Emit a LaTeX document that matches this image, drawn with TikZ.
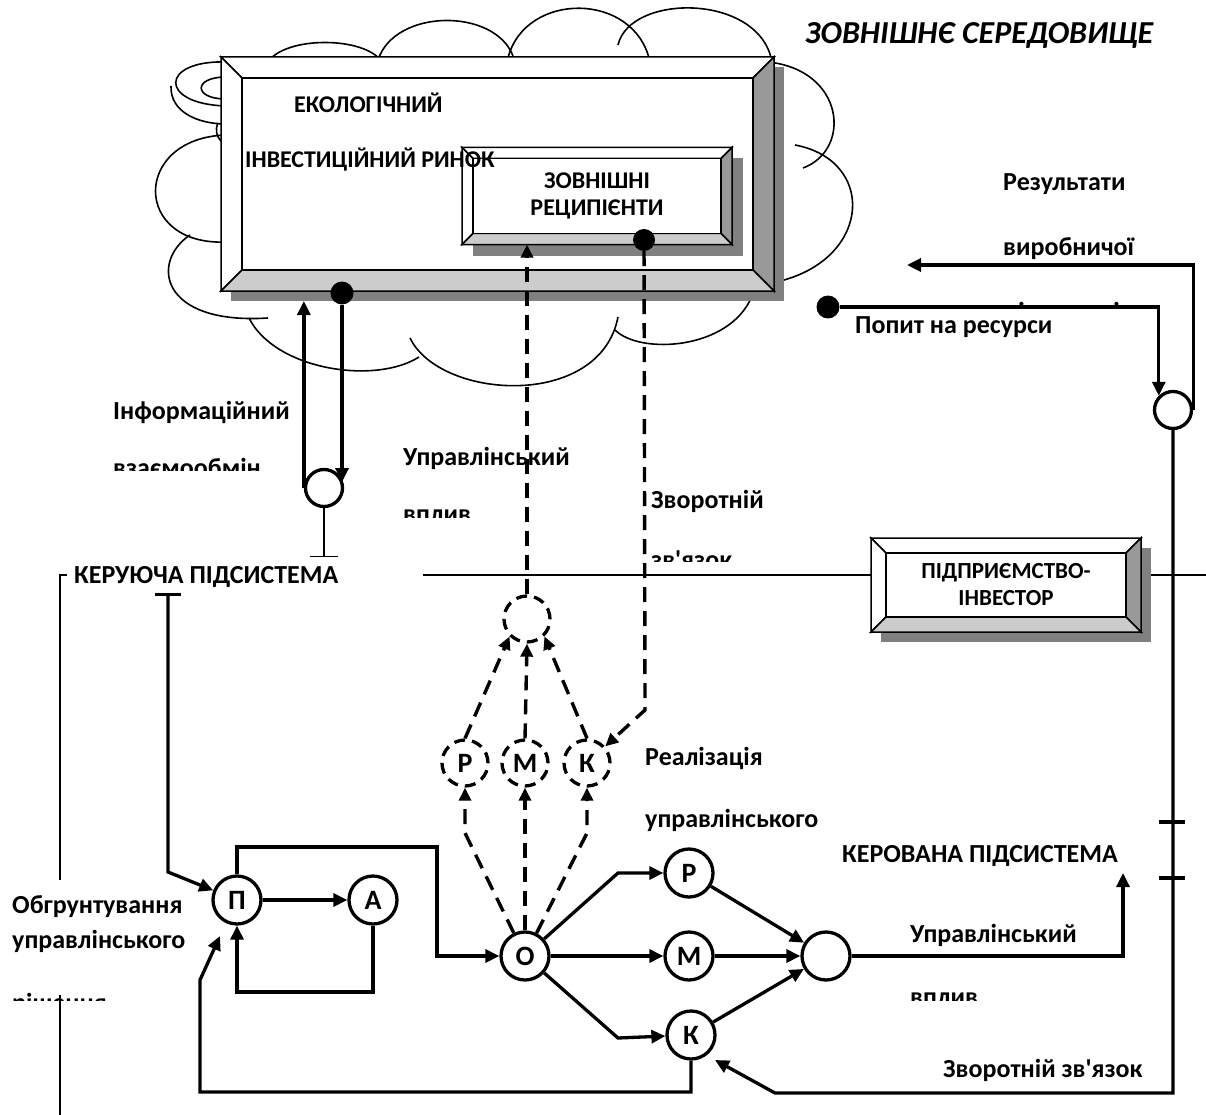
\documentclass[tikz,border=0pt]{standalone}
\usepackage{fontspec}
\setmainfont{Carlito}[Ligatures=TeXOff]
\usetikzlibrary{arrows.meta,calc}
\pgfdeclarelayer{cloud}
\pgfdeclarelayer{boxes}
\pgfsetlayers{cloud,boxes,main}
\definecolor{shadowgray}{gray}{0.5}
\definecolor{rightface}{HTML}{999999}
\definecolor{bottomface}{HTML}{CCCCCC}
\newcommand\bevelbox[3]{%
\begin{pgfonlayer}{boxes}
\fill[shadowgray] ($(#1.north west)+(#3,#3)$) rectangle ($(#1.south east)+(#3,#3)$);
\draw[line width=1.5pt, fill=white] (#1.north west) -- (#1.north east) -- ($(#1.north east)+(-#2,#2)$) -- ($(#1.north west)+(#2,#2)$) -- cycle;
\draw[line width=1.5pt, fill=white] (#1.north west) -- ($(#1.north west)+(#2,#2)$) -- ($(#1.south west)+(#2,-#2)$) -- (#1.south west) -- cycle;
\draw[line width=1.5pt, fill=rightface] (#1.north east) -- (#1.south east) -- ($(#1.south east)+(-#2,-#2)$) -- ($(#1.north east)+(-#2,#2)$) -- cycle;
\draw[line width=1.5pt, fill=bottomface] (#1.south west) -- (#1.south east) -- ($(#1.south east)+(-#2,-#2)$) -- ($(#1.south west)+(#2,-#2)$) -- cycle;
\draw[line width=1.5pt, fill=white] ($(#1.north west)+(#2,#2)$) rectangle ($(#1.south east)+(-#2,-#2)$);
\end{pgfonlayer}}
\begin{document}
\begin{tikzpicture}[x=1pt,y=-1pt,
 arr/.style={line width=3.3pt, -{Triangle[length=14pt,width=13pt]}},
 dasharr/.style={line width=3.4pt, dash pattern=on 15pt off 9pt, -{Triangle[length=13pt,width=12pt]}},
 circ/.style={circle, draw, line width=3.3pt, minimum size=48pt, inner sep=0pt, fill=white, font=\bfseries\fontsize{28}{32}\selectfont},
 dcirc/.style={circle, draw, line width=3.3pt, dash pattern=on 11pt off 7pt, minimum size=46pt, inner sep=0pt, font=\bfseries\fontsize{28}{32}\selectfont},
 smallc/.style={circle, draw, line width=3.3pt, minimum size=37pt, inner sep=0pt, fill=white},
 blackdot/.style={circle, fill=black, minimum size=23pt, inner sep=0pt},
 lbl/.style={anchor=base west, inner sep=0pt, font=\bfseries\fontsize{26}{30}\selectfont},
 boxlbl/.style={anchor=base west, inner sep=0pt, font=\bfseries\fontsize{24}{27}\selectfont},
 boxtxt/.style={inner sep=0pt, outer sep=0pt, align=center},
 thinline/.style={line width=1.5pt},
 cloudline/.style={line width=1.6pt},
 tick/.style={line width=3.3pt}
]
\useasboundingbox (0,0) rectangle (1206,1115);

% ---------- cloud and divider ----------
\begin{pgfonlayer}{cloud}
\draw[cloudline] (268,62) .. controls (285,36) and (365,36) .. (382,62);
\draw[cloudline] (378,60) .. controls (395,8) and (495,8) .. (513,56);
\draw[cloudline] (508,58) .. controls (525,-9) and (635,-9) .. (650,62);
\draw[cloudline] (618,45) .. controls (630,-7) and (760,-7) .. (772,62);
\draw[cloudline] (768,62) .. controls (845,70) and (852,150) .. (803,168);
\draw[cloudline] (795,145) .. controls (875,160) and (872,255) .. (784,280);
\draw[cloudline] (615,330) .. controls (640,355) and (730,350) .. (752,296);
\draw[cloudline] (410,338) .. controls (440,400) and (600,410) .. (618,317);
\draw[cloudline] (249,318) .. controls (275,370) and (375,385) .. (419,357);
\draw[cloudline] (190,235) .. controls (150,262) and (160,325) .. (268,318);
\draw[cloudline] (226,135) .. controls (132,138) and (132,246) .. (226,242);
\draw[cloudline] (226,62) .. controls (160,60) and (158,104) .. (226,106);
\draw[cloudline] (171,86) .. controls (170,112) and (198,124) .. (226,124);
\draw[cloudline] (226,77) .. controls (193,77) and (193,99) .. (226,99);
\draw[cloudline] (218,123) .. controls (215,130) and (216,136) .. (222,142);
\draw[thinline] (423,575) -- (1206,575);
\end{pgfonlayer}

% ---------- bevelled boxes ----------
\node[boxtxt, minimum width=553pt, minimum height=234pt] (market) at (497.5,174) {};
\bevelbox{market}{21}{10}
\node[boxtxt, minimum width=270pt, minimum height=97pt, font=\bfseries\fontsize{24}{27}\selectfont] (recip) at (597,196) {ЗОВНІШНІ\\РЕЦИПІЄНТИ};
\bevelbox{recip}{11}{11}
\node[boxtxt, minimum width=270pt, minimum height=94pt, font=\bfseries\fontsize{23}{27}\selectfont] (firm) at (1006,585) {ПІДПРИЄМСТВО-\\ІНВЕСТОР};
\bevelbox{firm}{15}{10}

\node[boxlbl] (eco1) at (294,113) {ЕКОЛОГІЧНИЙ};
\node[boxlbl] (eco2) at (245,168) {ІНВЕСТИЦІЙНИЙ РИНОК};

% ---------- title and labels ----------
\node[anchor=base west, inner sep=0pt, font=\bfseries\itshape\fontsize{32}{36}\selectfont] (title) at (805,44) {ЗОВНІШНЄ СЕРЕДОВИЩЕ};

\node[lbl] (res1) at (1003,191) {Результати};
\node[lbl] (res2) at (1003,255) {виробничої};
\begin{scope}
\clip (990,280) rectangle (1206,306);
\node[lbl] (res3) at (1003,320) {діяльності};
\end{scope}
\node[lbl] (demand) at (855,333) {Попит на ресурси};

\node[lbl] (inf1) at (113,419) {Інформаційний};
\begin{scope}
\clip (100,440) rectangle (320,470);
\node[lbl] (inf2) at (113,476) {взаємообмін};
\end{scope}

\node[lbl] (uv1) at (403,465) {Управлінський};
\begin{scope}
\clip (390,495) rectangle (600,517);
\node[lbl] (uv2) at (403,522) {вплив};
\end{scope}

\node[lbl] (zv1) at (651,508) {Зворотній};
\begin{scope}
\clip (640,535) rectangle (800,561);
\node[lbl] (zv2) at (651,568) {зв'язок};
\end{scope}

\node[lbl] (ctrl) at (74,583) {КЕРУЮЧА ПІДСИСТЕМА};
\node[lbl] (real1) at (645,765) {Реалізація};
\node[lbl] (real2) at (645,827) {управлінського};
\node[lbl] (ctrd) at (842,862) {КЕРОВАНА ПІДСИСТЕМА};
\node[lbl] (ob1) at (12,913) {Обгрунтування};
\node[lbl] (ob2) at (12,948) {управлінського};
\begin{scope}
\clip (0,975) rectangle (200,1000);
\node[lbl] (ob3) at (12,1011) {рішення};
\end{scope}
\node[lbl] (uvr1) at (910,942) {Управлінський};
\begin{scope}
\clip (900,975) rectangle (1100,1000);
\node[lbl] (uvr2) at (910,1005) {вплив};
\end{scope}
\node[lbl] (zvr) at (943,1077) {Зворотній зв'язок};

% left bracket line
\draw[thinline] (67,575) -- (60,575) -- (60,880);
\draw[thinline] (60,995) -- (60,1115);

% ---------- circles ----------
\node[circ] (P) at (237,900) {П};
\node[circ] (A) at (373,900) {А};
\node[circ] (O) at (525,956) {О};
\node[circ] (R) at (689,873) {Р};
\node[circ] (M) at (689,956) {М};
\node[circ] (K) at (691,1035) {К};
\node[circ] (S) at (826,956) {};
\node[dcirc] (dtop) at (527,619) {};
\node[dcirc] (dR) at (465,763) {Р};
\node[dcirc] (dM) at (525,763) {М};
\node[dcirc] (dK) at (587,763) {К};
\node[smallc] (info) at (324,488) {};
\node[smallc] (res) at (1173,410) {};
\node[blackdot] (dot1) at (342,293) {};
\node[blackdot] (dot2) at (828,307) {};
\node[blackdot, minimum size=22pt] (dot3) at (644,240) {};

% ---------- coordinates ----------
\coordinate (aloop) at (373,992);
\coordinate (ptop) at (437,847);
\coordinate (tT) at (168,593);
\coordinate (tB) at (168,872);
\coordinate (fb1) at (200,1092);
\coordinate (fb2) at (200,980);
\coordinate (fbtip) at (220,936);
\coordinate (rO) at (618,873);
\coordinate (kO) at (618,1038);
\coordinate (outR) at (1123,956);
\coordinate (outTip) at (1123,873);
\coordinate (fbR) at (1173,1093);
\coordinate (fbL) at (775,1093);
\coordinate (kTip) at (715,1060);
\coordinate (resTip) at (907,265);
\coordinate (dashBend) at (645,710);
\coordinate (leftBend) at (465,833);
\coordinate (rightBend) at (587,833);
\coordinate (mktb) at ($(market.south)+(0,10)$);
\coordinate (infoIn) at (342,482);
\coordinate (infoT) at (324,557);

% ---------- solid connectors ----------
\draw[arr] (P) -- (A);
\draw[arr] (A.south) -- (aloop) -| (P.south);
\draw[arr] (P.north) |- (ptop) |- (O.west);
\draw[line width=3.3pt, {Bar[width=26pt]}-{Triangle[length=14pt,width=13pt]}] (tT) -- (tB) -- (P);
\draw[arr] (K.south) |- (fb1) -- (fb2) -- (fbtip);
\draw[arr] (O) -- (rO) -- (R);
\draw[arr] (O) -- (M);
\draw[arr] (O) -- (kO) -- (K);
\draw[arr] (R) -- (S);
\draw[arr] (M) -- (S);
\draw[arr] (K) -- (S);
\draw[arr] (S) -- (outR) -- (outTip);
\draw[arr] (res.south) -- (fbR) -- (fbL) -- (kTip);
\draw[tick] (1159,822) -- (1185,822);
\draw[tick] (1159,878) -- (1185,878);
\draw[arr] (res.east) |- (resTip);
\draw[arr] (dot2) -- (dot2 -| res.north west) -- (res.north west);
\draw[arr] (info.west) -- (info.west |- mktb);
\draw[arr] (dot1) -- (infoIn);
\draw[thinline, -{Bar[width=28pt]}] (info.south) -- (infoT);

% ---------- dashed connectors ----------
\draw[dasharr] (dtop) -- (dtop |- recip.south);
\draw[dasharr] (dot3) -- (dashBend) -- (dK);
\draw[dasharr] (dR.north) -- (dtop.south west);
\draw[dasharr] (dM.north) -- (dtop.south);
\draw[dasharr] (dK.north) -- (dtop.south east);
\draw[dasharr] (O) -- (leftBend) -- (dR.south);
\draw[dasharr] (O) -- (dM.south);
\draw[dasharr] (O) -- (rightBend) -- (dK.south);
\end{tikzpicture}
\end{document}
